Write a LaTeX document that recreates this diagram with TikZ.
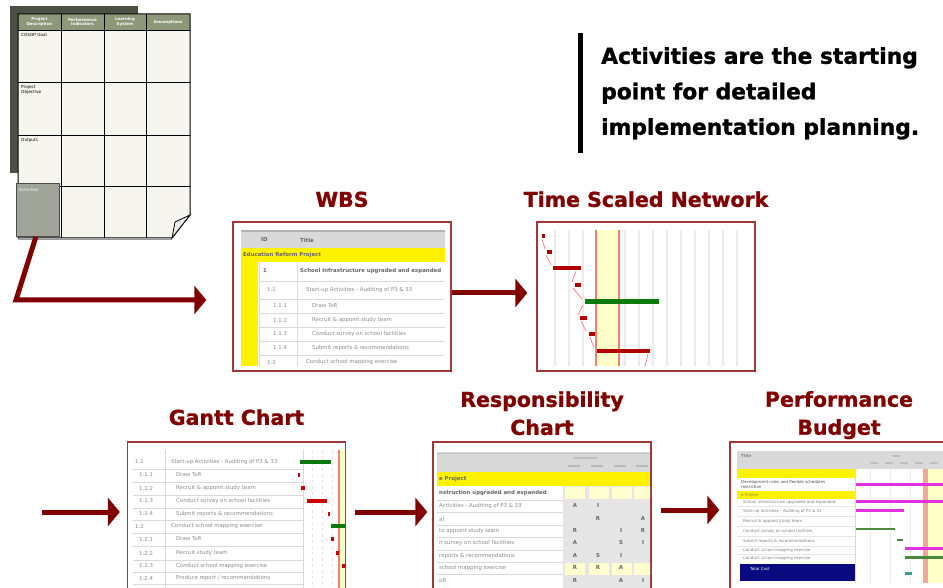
\documentclass[tikz,border=0pt]{standalone}
\usepackage{fontspec}
\setsansfont{DejaVu Sans}
\newfontfamily\heavyfont[FakeBold=1.2]{DejaVu Sans Bold}
\usetikzlibrary{arrows.meta,positioning}

\definecolor{arrowred}{HTML}{800000}
\definecolor{framered}{HTML}{A03838}
\definecolor{sheet}{HTML}{F6F6EE}
\definecolor{backsheet}{HTML}{4B5142}
\definecolor{headolive}{HTML}{8C9878}
\definecolor{actgray}{HTML}{A1A498}
\definecolor{bandyellow}{HTML}{FFFFC8}
\definecolor{paleyellow}{HTML}{FFFFD0}
\definecolor{bandred}{HTML}{F08070}
\definecolor{barred}{HTML}{B00000}
\definecolor{bargreen}{HTML}{0A7A0A}
\definecolor{budgetgreen}{HTML}{4A8A3A}
\definecolor{magentabar}{HTML}{E030E0}
\definecolor{navyblock}{HTML}{0A0A80}

\tikzset{
  lnk/.style={draw=arrowred, line width=5pt, -{Triangle[length=12pt,width=28pt]}},
  ttl/.style={font=\heavyfont\fontsize{20.5}{28}\selectfont, text=arrowred, align=center, inner sep=0pt},
  note/.style={font=\heavyfont\fontsize{21.8}{35.5}\selectfont, align=left, inner sep=0pt},
  thumb/.style={draw=framered, line width=1.3pt, fill=white, minimum width=218pt, minimum height=149pt, inner sep=0pt},
  tiny/.style={font=\sffamily\fontsize{5.4}{6}\selectfont, text=black!45, inner sep=0pt, anchor=west},
  tinyb/.style={tiny, font=\sffamily\bfseries\fontsize{5.4}{6}\selectfont, text=black!60},
  micro/.style={font=\sffamily\fontsize{4}{4.6}\selectfont, text=black!50, inner sep=0pt, anchor=west},
  lfhead/.style={font=\sffamily\bfseries\fontsize{4}{4.6}\selectfont, text=white, align=center, inner sep=0pt},
  lflabel/.style={font=\sffamily\fontsize{4.2}{4.8}\selectfont, align=left, inner sep=0pt, anchor=north west},
  rule/.style={draw=gray!30, line width=0.8pt},
  bar/.style={line width=4pt}
}

\begin{document}
\begin{tikzpicture}[x=1pt,y=-1pt]
\useasboundingbox (0,0) rectangle (943,588);

% logframe sheet
\fill[backsheet] (10,6) rectangle (138,173);
\fill[sheet] (18,14) -- (190,14) -- (190,215) -- (172,238) -- (18,238) -- cycle;
\fill[headolive] (18,14) rectangle (190,30);
\foreach \x in {61,104,146} \draw[line width=0.9pt] (\x,14) -- (\x,238);
\foreach \y in {30,82,135,186} \draw[line width=0.9pt] (18,\y) -- (190,\y);
\draw[line width=1pt] (18,14) -- (190,14) -- (190,215) -- (172,238) -- (18,238) -- cycle;
\draw[gray!80, line width=1.5pt] (18,239.5) -- (172,239.5);
\filldraw[fill=gray!15, draw=black, line width=0.8pt] (190,215) -- (172,238) -- (175,222) -- cycle;
\node[lfhead] at (39.5,22) {Project\\Description};
\node[lfhead] at (82.5,22) {Performance\\Indicators};
\node[lfhead] at (125,22) {Learning\\System};
\node[lfhead] at (168,22) {Assumptions};
\node[lflabel] at (21,33) {COSOP Goal};
\node[lflabel] at (21,85) {Project\\Objective};
\node[lflabel] at (21,138) {Outputs};
\node[fill=actgray, draw=gray!60!black, line width=0.8pt, minimum width=43pt, minimum height=53pt,
      inner sep=0pt, anchor=north west] (actv) at (16,183) {};
\node[lflabel, text=white] at (19,188) {Activities};

% note
\fill (578,33) rectangle (583,153);
\node[note, anchor=north west] (note) at (601,47) {Activities are the starting\\point for detailed\\implementation planning.};

% thumbnails
\node[thumb] (wbs) at (342,296.5) {};
\node[thumb] (tsn) at (646,296.5) {};
\node[thumb, minimum height=152pt] (gantt) at (236.5,518) {};
\node[thumb, minimum height=152pt] (resp) at (542,518) {};
\node[thumb, minimum height=152pt] (perf) at (839,518) {};

\node[ttl, above=14pt of wbs] (wbst) {WBS};
\node[ttl, above=14pt of tsn] (tsnt) {Time Scaled Network};
\node[ttl, above=16pt of gantt] (ganttt) {Gantt Chart};
\node[ttl, above=6pt of resp] (respt) {Responsibility\\Chart};
\node[ttl, above=2pt of perf] (perft) {Performance\\Budget};

% WBS table
\begin{scope}
\clip (241,230) rectangle (445,366);
\fill[gray!30] (241,230) rectangle (445,248);
\draw[gray!60, line width=1.5pt] (241,231) -- (445,231);
\node[tinyb] at (261,240) {ID};
\node[tinyb] at (300,240) {Title};
\fill[yellow] (241,248) rectangle (445,262);
\node[tinyb] at (243,255) {Education Reform Project};
\fill[yellow] (241,262) rectangle (258,366);
\draw[rule] (259,262) -- (259,366) (297,262) -- (297,366);
\foreach \y in {281,299,313,327,341,355} \draw[rule] (259,\y) -- (445,\y);
\node[tinyb] at (263,271) {1};
\node[tinyb] at (300,271) {School Infrastructure upgraded and expanded};
\foreach \y/\id/\t in {290/1.1/{Start-up Activities - Auditing of P3 \& 33},
    362/1.2/{Conduct school mapping exercise}}
  {\node[tiny] at (267,\y) {\id}; \node[tiny] at (306,\y) {\t};}
\foreach \y/\id/\t in {306/1.1.1/{Draw ToR}, 320/1.1.2/{Recruit \& appoint study team},
    334/1.1.3/{Conduct survey on school facilities}, 348/1.1.4/{Submit reports \& recommendations}}
  {\node[tiny] at (273,\y) {\id}; \node[tiny] at (312,\y) {\t};}
\end{scope}

% time scaled network
\begin{scope}
\clip (541,230) rectangle (750,366);
\foreach \x in {555,569,...,745} \draw[gray!15, line width=1.5pt] (\x,230) -- (\x,366);
\fill[bandyellow] (595,230) rectangle (620,366);
\draw[bandred, line width=1.3pt] (596,230) -- (596,366) (619,230) -- (619,366);
\draw[barred, bar] (542,236) -- (545,236);
\draw[barred, bar] (547,252) -- (552,252);
\draw[barred, bar] (553,268) -- (581,268);
\draw[barred, bar] (575,285) -- (581,285);
\draw[bargreen, line width=5pt] (585,302) -- (659,302);
\draw[barred, bar] (580,318) -- (587,318);
\draw[barred, bar] (589,334) -- (595,334);
\draw[barred, bar] (597,351) -- (650,351);
\draw[red!60, line width=0.6pt] (542,239) -- (545,249) (546,255) -- (551,265) (576,271) -- (572,282)
  (573,288) -- (582,299) (583,305) -- (578,315) (581,321) -- (586,331) (590,337) -- (594,348) (648,354) -- (645,366);
\end{scope}

% gantt chart
\begin{scope}
\clip (133,450) rectangle (345,588);
\fill[bandyellow] (339,450) rectangle (345,588);
\draw[bandred, line width=1.2pt] (339,450) -- (339,588);
\foreach \x in {312,322,332} \draw[gray!20, dashed] (\x,450) -- (\x,588);
\draw[rule] (165,450) -- (165,588) (303,450) -- (303,588);
\foreach \y in {469,482,495,508,520,533,546,560,572,584} \draw[rule] (133,\y) -- (303,\y);
\foreach \y/\id/\t in {462/1.1/{Start-up Activities - Auditing of P3 \& 33}, 526/1.2/{Conduct school mapping exercise}}
  {\node[tiny] at (135,\y) {\id}; \node[tiny] at (171,\y) {\t};}
\foreach \y/\id/\t in {475/1.1.1/{Draw ToR}, 488/1.1.2/{Recruit \& appoint study team},
    501/1.1.3/{Conduct survey on school facilities}, 514/1.1.4/{Submit reports \& recommendations},
    539/1.2.1/{Draw ToR}, 553/1.2.2/{Recruit study team}, 566/1.2.3/{Conduct school mapping exercise},
    578/1.2.4/{Produce report / recommendations}}
  {\node[tiny] at (139,\y) {\id}; \node[tiny] at (176,\y) {\t};}
\draw[bargreen, bar] (300,462) -- (331,462);
\draw[red!80!black, bar] (298,475) -- (300,475);
\draw[red!80!black, bar] (301,488) -- (305,488);
\draw[red!80!black, bar] (307,501) -- (327,501);
\draw[red!80!black, bar] (328,514) -- (330,514);
\draw[bargreen, bar] (331,526) -- (350,526);
\draw[red!80!black, bar] (331,539) -- (334,539);
\draw[red!80!black, bar] (336,553) -- (339,553);
\draw[red!80!black, bar] (342,566) -- (350,566);
\end{scope}

% responsibility chart
\begin{scope}
\clip (437,452) rectangle (650,588);
\fill[gray!30] (437,452) rectangle (650,472);
\draw[gray!50, line width=1pt] (437,453) -- (650,453);
\fill[gray!50] (573,457) rectangle (597,459);
\foreach \x in {568,591,614,636} \fill[gray!55] (\x,465) rectangle (\x+12,467);
\fill[yellow] (437,472) rectangle (650,486);
\node[tinyb] at (439,479) {e Project};
\fill[gray!20] (563,486) rectangle (650,588);
\foreach \x in {565,589,612,634} {
  \fill[paleyellow] (\x,487) rectangle (\x+20,499);
  \fill[paleyellow] (\x,563) rectangle (\x+20,575);}
\node[tinyb] at (439,493) {nstruction upgraded and expanded};
\foreach \y in {500,512,525,537,550,562,574} \draw[rule] (437,\y) -- (563,\y);
\foreach \y/\t in {506/{Activities - Auditing of P3 \& 33}, 519/{al}, 531/{to appoint study team},
    543/{n survey on school facilities}, 556/{reports \& recommendations}, 568/{school mapping exercise}, 581/{oR}}
  \node[tiny] at (439,\y) {\t};
\foreach \x/\y/\m in {575/506/A, 598/506/I, 598/519/R, 643/519/A, 575/531/R, 621/531/I, 643/531/R,
    575/543/A, 621/543/S, 643/543/I, 575/556/A, 598/556/S, 621/556/I, 575/568/R, 598/568/R, 621/568/A,
    575/581/R, 621/581/A, 643/581/I}
  \node[tinyb, anchor=center] at (\x,\y) {\m};
\end{scope}

% performance budget
\begin{scope}
\clip (737,451) rectangle (943,583);
\fill[gray!30] (737,451) rectangle (943,469);
\node[micro, font=\sffamily\bfseries\fontsize{4}{4.6}\selectfont] at (741,456) {Title};
\foreach \x in {870,885,900,915,930} \fill[gray!50] (\x,462) rectangle (\x+8,463.5);
\fill[gray!50] (893,455) rectangle (900,456.5);
\fill[yellow] (737,469) rectangle (855,478);
\fill[yellow] (737,491) rectangle (855,499);
\fill[bandyellow] (928,469) rectangle (943,583);
\fill[bandred!70] (923,469) rectangle (928,583);
\foreach \x in {870,890,910} \draw[gray!15, line width=1pt] (\x,469) -- (\x,583);
\draw[rule] (855,451) -- (855,583);
\node[micro, text=black!70] at (741,482) {Development rules and flexible schedules};
\node[micro, text=black!70] at (741,487) {restriction};
\node[micro] at (741,495) {e Project};
\foreach \y/\t in {502/{School infrastructure upgraded and expanded}, 511/{Start-up Activities - Auditing of P3 \& 33},
    521/{Recruit \& appoint study team}, 531/{Conduct survey on school facilities},
    541/{Submit reports \& recommendations}, 550/{Conduct school mapping exercise}, 558/{Conduct school mapping exercise}}
  \node[micro] at (743,\y) {\t};
\foreach \y in {506,516,526,536,546,554} \draw[gray!20] (737,\y) -- (855,\y);
\fill[navyblock] (740,564) rectangle (855,581);
\node[micro, text=white] at (750,569) {Total Cost};
\draw[magentabar, line width=3pt] (856,484) -- (943,484);
\draw[magentabar, line width=3pt] (856,501) -- (943,501);
\draw[magentabar, line width=3pt] (856,510) -- (904,510);
\draw[budgetgreen, line width=2.5pt] (856,529) -- (895,529);
\draw[budgetgreen, line width=2.5pt] (897,540) -- (903,540);
\draw[magentabar, line width=3pt] (905,548) -- (943,548);
\draw[budgetgreen, line width=3pt] (905,557) -- (943,557);
\draw[teal!80, line width=3pt] (905,573) -- (912,573);
\end{scope}

% connectors
\coordinate (turn) at (16,300);
\coordinate (gin) at (42,512);
\draw[lnk] ([xshift=-2pt]actv.south) -- (turn) -- ([xshift=-26pt,yshift=-3.5pt]wbs.west);
\draw[lnk] ([yshift=3.5pt]wbs.east) -- ([xshift=-9pt,yshift=3.5pt]tsn.west);
\draw[lnk] (gin) -- ([xshift=-7pt,yshift=6pt]gantt.west);
\draw[lnk] ([xshift=9pt,yshift=6pt]gantt.east) -- ([xshift=-5pt,yshift=6pt]resp.west);
\draw[lnk] ([xshift=9pt,yshift=8pt]resp.east) -- ([xshift=-10pt,yshift=8pt]perf.west);
\end{tikzpicture}
\end{document}
